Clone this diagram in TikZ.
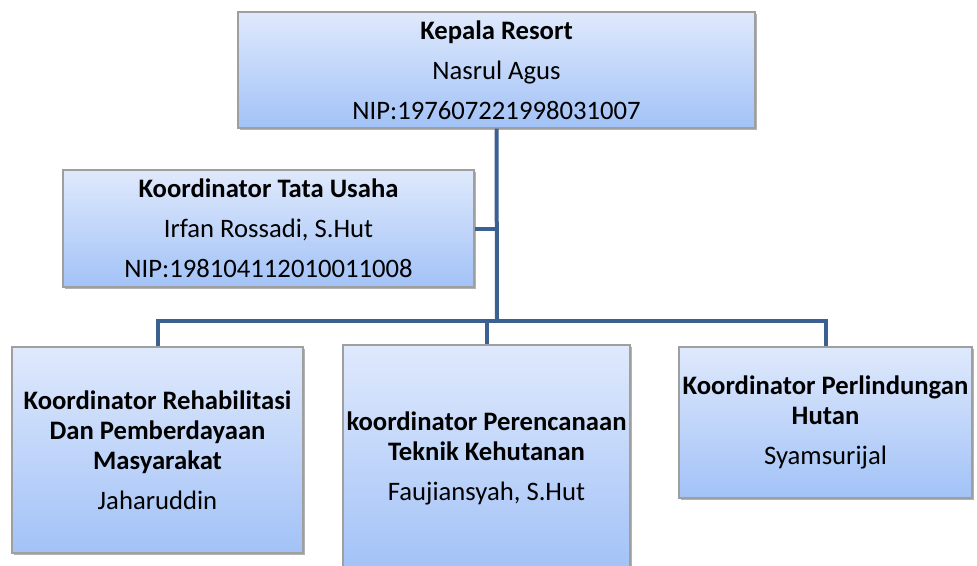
\documentclass[tikz,border=0pt]{standalone}
\usepackage{fontspec}
\setmainfont{Carlito}
\usetikzlibrary{positioning,shadows}
\definecolor{boxtop}{RGB}{223,233,252}
\definecolor{boxbot}{RGB}{162,194,247}
\definecolor{linkblue}{RGB}{59,96,146}

\begin{document}
\begin{tikzpicture}[x=0.75pt,y=-0.75pt]

\tikzstyle{box} = [rectangle, draw=gray!75, line width=0.8pt, top color=boxtop, bottom color=boxbot, align=center, inner sep=0pt, font=\fontsize{20}{22.5}\selectfont, drop shadow={shadow xshift=1.5pt, shadow yshift=-1.5pt, fill=black!60, opacity=0.5}]

\tikzstyle{link} = [draw=linkblue, line width=3pt]

    \useasboundingbox (0,0) rectangle (977,565);

    \node [box, minimum width=387.75pt, minimum height=87pt] (kepala) at (496.5,70) {\textbf{Kepala Resort}\\[7.5pt] Nasrul Agus\\[7.5pt] NIP:197607221998031007};
    \node [box, minimum width=308.25pt, minimum height=87.75pt] (tu) at (268.5,228.5) {\textbf{Koordinator Tata Usaha}\\[7.5pt] Irfan Rossadi, S.Hut\\[7.5pt] NIP:198104112010011008};

    \node [box, minimum width=218.25pt, minimum height=154.5pt] (rehab) at (157.5,450) {\textbf{Koordinator Rehabilitasi}\\ \textbf{Dan Pemberdayaan}\\ \textbf{Masyarakat}\\[7.5pt] Jaharuddin};
    \node [box, minimum width=215.25pt, minimum height=169.5pt] (renc) at (486.5,458) {\textbf{koordinator Perencanaan}\\ \textbf{Teknik Kehutanan}\\[7.5pt] Faujiansyah, S.Hut};
    \node [box, minimum width=219.75pt, minimum height=113.25pt] (hutan) at (825.5,422.5) {\textbf{Koordinator Perlindungan}\\ \textbf{Hutan}\\[7.5pt] Syamsurijal};

    \coordinate (bus) at (497,321);

    \draw [link] (kepala.south) -- (bus);
    \draw [link] (tu.east) -- (tu.east -| kepala.south);
    \draw [link] (rehab.north) |- (bus);
    \draw [link] (renc.north) |- (bus);
    \draw [link] (hutan.north) |- (bus);

\end{tikzpicture}
\end{document}
